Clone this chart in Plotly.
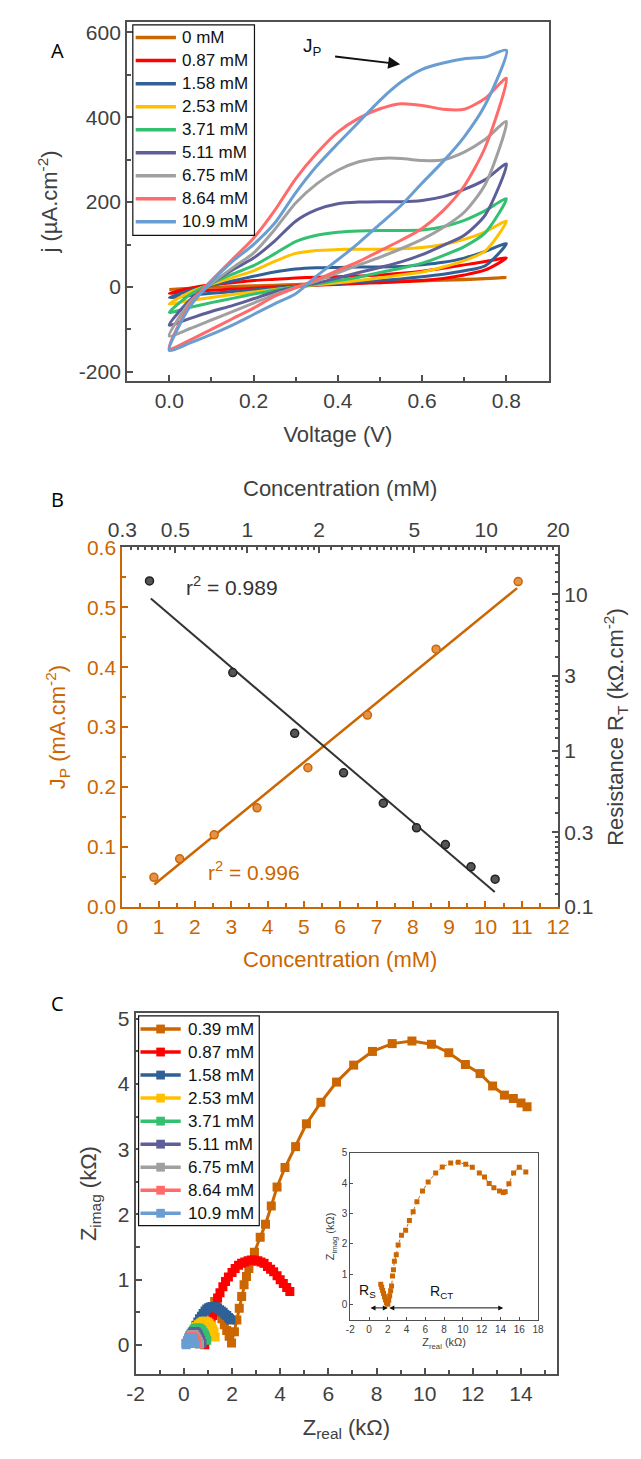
import plotly.graph_objects as go

FONT = "Liberation Sans, Arial, sans-serif"
ORANGE = "#CC6600"
DARK = "#404040"
AXC = "#505050"

# ---------------- Panel A data (CV) ----------------
voltage_fwd = [0, 0.05, 0.1, 0.15, 0.2, 0.25, 0.3, 0.35, 0.4, 0.45, 0.5, 0.55, 0.6, 0.65, 0.7, 0.75, 0.8]
voltage_rev = [0.8, 0.75, 0.7, 0.65, 0.6, 0.55, 0.5, 0.45, 0.4, 0.35, 0.3, 0.25, 0.2, 0.15, 0.1, 0.05, 0]
cv_labels = ["0 mM", "0.87 mM", "1.58 mM", "2.53 mM", "3.71 mM", "5.11 mM", "6.75 mM", "8.64 mM", "10.9 mM"]
cv_colors = ["#CC6600", "#FF0000", "#2F6196", "#FFC000", "#33C070", "#5E5E99", "#A0A0A0", "#FF6B6B", "#6A9ED2"]
cv_fwd = [
    [-6, -3, -1, 1, 3, 4, 6, 8, 9, 11, 12, 14, 15, 17, 18, 20, 22],
    [-15, -3, 5, 10, 15, 18, 21, 23, 24, 26, 28, 32, 37, 44, 52, 60, 68],
    [-25, -8, 4, 14, 25, 35, 42, 45, 46, 47, 47, 48, 52, 58, 68, 84, 102],
    [-40, -12, 6, 22, 38, 60, 79, 86, 88, 89, 89, 90, 93, 100, 112, 130, 155],
    [-60, -18, 8, 30, 50, 78, 107, 122, 129, 132, 133, 133, 134, 142, 157, 180, 208],
    [-90, -30, 8, 40, 68, 108, 155, 182, 196, 200, 201, 201, 204, 213, 230, 253, 290],
    [-116, -35, 8, 45, 80, 135, 198, 243, 275, 295, 303, 303, 298, 300, 318, 348, 390],
    [-146, -40, 15, 65, 115, 180, 255, 315, 365, 398, 420, 432, 428, 419, 419, 445, 492],
    [-150, -45, 12, 60, 100, 150, 222, 285, 338, 389, 440, 483, 513, 528, 538, 542, 558],
]
cv_rev = [
    [22, 19, 17, 16, 14, 13, 11, 10, 8, 7, 5, 4, 2, 1, -1, -3, -6],
    [68, 40, 28, 20, 15, 12, 10, 8, 6, 4, 2, 0, -3, -5, -8, -11, -15],
    [102, 50, 38, 30, 24, 19, 15, 12, 8, 5, 1, -3, -7, -11, -15, -20, -25],
    [155, 85, 62, 47, 35, 28, 21, 15, 10, 5, 0, -6, -12, -18, -25, -32, -40],
    [208, 128, 95, 74, 56, 44, 34, 23, 15, 7, 0, -8, -17, -27, -37, -48, -60],
    [290, 170, 122, 98, 76, 59, 46, 34, 21, 9, 0, -12, -28, -44, -58, -74, -90],
    [390, 242, 176, 140, 112, 90, 70, 52, 33, 14, -1, -18, -38, -58, -78, -98, -116],
    [492, 330, 238, 180, 138, 110, 85, 60, 39, 17, -2, -22, -50, -75, -100, -125, -146],
    [558, 430, 354, 296, 245, 192, 148, 104, 64, 26, -16, -40, -65, -90, -112, -132, -150],
]

# ---------------- Panel B data ----------------
conc_jp = [0.87, 1.58, 2.53, 3.71, 5.11, 6.75, 8.64, 10.9]
jp_values = [0.049, 0.080, 0.120, 0.165, 0.232, 0.320, 0.430, 0.543]
jp_fit_x = [0.88, 10.87]
jp_fit_y = [0.037, 0.532]
conc_rt = [0.39, 0.87, 1.58, 2.53, 3.71, 5.11, 6.75, 8.64, 10.9]
rt_values = [12.2, 3.16, 1.29, 0.72, 0.46, 0.32, 0.25, 0.18, 0.15]
rt_fit_x = [0.395, 10.86]
rt_fit_y = [9.4, 0.124]

# ---------------- Panel C data (Nyquist) ----------------
eis_labels = ["0.39 mM", "0.87 mM", "1.58 mM", "2.53 mM", "3.71 mM", "5.11 mM", "6.75 mM", "8.64 mM", "10.9 mM"]
eis_colors = ["#CC6600", "#FF0000", "#2F6196", "#FFC000", "#33C070", "#5E5E99", "#A0A0A0", "#FF6B6B", "#6A9ED2"]
eis_re = [
    [1.28, 1.38, 1.48, 1.58, 1.68, 1.78, 1.88, 1.98, 2.1, 2.2, 2.3, 2.4, 2.5, 2.6, 2.7, 2.8, 2.93, 3.17, 3.39, 3.63, 3.87, 4.2, 4.64, 5.09, 5.69, 6.34, 7.05, 7.83, 8.65, 9.47, 10.28, 11.0, 11.69, 12.3, 12.82, 13.31, 13.68, 14.0, 14.25],
    [0.87, 0.92, 0.98, 1.05, 1.13, 1.2, 1.3, 1.4, 1.5, 1.62, 1.73, 1.85, 2.0, 2.13, 2.27, 2.4, 2.53, 2.67, 2.8, 2.93, 3.07, 3.2, 3.33, 3.47, 3.6, 3.73, 3.87, 4.0, 4.13, 4.27, 4.4],
    [0.2, 0.28, 0.35, 0.43, 0.5, 0.58, 0.65, 0.73, 0.8, 0.88, 0.95, 1.03, 1.1, 1.18, 1.25, 1.33, 1.4, 1.48, 1.55, 1.63, 1.7, 1.78, 1.85, 1.9, 1.95],
    [0.15, 0.22, 0.3, 0.38, 0.45, 0.52, 0.6, 0.68, 0.75, 0.82, 0.9, 0.98, 1.05, 1.1, 1.15, 1.2, 1.25, 1.3],
    [0.1, 0.15, 0.2, 0.25, 0.3, 0.35, 0.4, 0.45, 0.5, 0.55, 0.6, 0.65, 0.7, 0.75, 0.8, 0.85, 0.9, 0.95],
    [0.1, 0.15, 0.2, 0.25, 0.3, 0.35, 0.4, 0.45, 0.5, 0.55, 0.6, 0.65, 0.7, 0.75],
    [0.1, 0.15, 0.2, 0.25, 0.3, 0.35, 0.4, 0.45, 0.5, 0.55, 0.6, 0.65],
    [0.1, 0.15, 0.2, 0.25, 0.3, 0.35, 0.4, 0.45, 0.5, 0.55],
    [0.1, 0.13, 0.15, 0.18, 0.2, 0.25, 0.3, 0.35, 0.4, 0.45],
]
eis_im = [
    [0.665, 0.58, 0.49, 0.4, 0.31, 0.22, 0.13, 0.03, 0.2, 0.38, 0.56, 0.74, 0.92, 1.05, 1.17, 1.28, 1.42, 1.65, 1.85, 2.13, 2.42, 2.72, 3.04, 3.39, 3.72, 4.03, 4.29, 4.5, 4.62, 4.66, 4.61, 4.48, 4.3, 4.16, 3.97, 3.83, 3.78, 3.71, 3.65],
    [0.0, 0.08, 0.16, 0.24, 0.32, 0.45, 0.58, 0.72, 0.8, 0.89, 0.97, 1.04, 1.11, 1.17, 1.22, 1.25, 1.27, 1.29, 1.30, 1.30, 1.29, 1.27, 1.25, 1.2, 1.16, 1.12, 1.06, 1.0, 0.94, 0.88, 0.82],
    [0.05, 0.12, 0.18, 0.24, 0.3, 0.35, 0.4, 0.44, 0.48, 0.52, 0.55, 0.57, 0.58, 0.59, 0.58, 0.58, 0.56, 0.54, 0.52, 0.5, 0.47, 0.45, 0.42, 0.4, 0.38],
    [0.03, 0.09, 0.14, 0.19, 0.24, 0.28, 0.31, 0.33, 0.35, 0.36, 0.36, 0.35, 0.33, 0.3, 0.28, 0.24, 0.2, 0.12],
    [0.02, 0.06, 0.1, 0.14, 0.17, 0.2, 0.22, 0.24, 0.25, 0.26, 0.26, 0.25, 0.24, 0.22, 0.19, 0.16, 0.12, 0.07],
    [0.02, 0.06, 0.1, 0.13, 0.16, 0.18, 0.2, 0.2, 0.2, 0.18, 0.15, 0.11, 0.07, 0.02],
    [0.02, 0.06, 0.1, 0.12, 0.15, 0.16, 0.16, 0.15, 0.12, 0.09, 0.05, 0.01],
    [0.02, 0.05, 0.08, 0.1, 0.12, 0.12, 0.12, 0.1, 0.07, 0.02],
    [0.0, 0.03, 0.05, 0.07, 0.09, 0.1, 0.11, 0.1, 0.08, 0.02],
]
inset_re = [1.25, 1.35, 1.45, 1.55, 1.65, 1.75, 1.85, 1.95, 2.0, 2.1, 2.2, 2.3, 2.4, 2.5, 2.6, 2.7, 2.9, 3.1, 3.46, 3.9, 4.3, 4.7, 5.1, 5.7, 6.3, 7.1, 7.8, 8.7, 9.5, 10.3, 11.0, 11.75, 12.3, 12.8, 13.3, 13.9, 14.3, 14.5, 14.9, 15.4, 16.0, 16.7]
inset_im = [0.68, 0.58, 0.47, 0.37, 0.27, 0.17, 0.08, 0.03, 0.03, 0.15, 0.3, 0.46, 0.62, 0.95, 1.15, 1.43, 1.65, 1.97, 2.29, 2.45, 2.77, 3.06, 3.39, 3.74, 4.04, 4.33, 4.53, 4.66, 4.69, 4.62, 4.52, 4.33, 4.2, 3.99, 3.85, 3.74, 3.69, 3.72, 3.98, 4.33, 4.52, 4.37]

W = 641.0
H = 1459.0
TICK = 21
TITLE = 22

fig = go.Figure()

# Panel A traces
for lab, col, f, r in zip(cv_labels, cv_colors, cv_fwd, cv_rev):
    fig.add_trace(go.Scatter(
        x=voltage_fwd + voltage_rev[1:], y=f + r[1:], mode="lines", name=lab,
        line=dict(color=col, width=3, shape="spline", smoothing=0.7),
        xaxis="x", yaxis="y", showlegend=False))

# Panel B traces
fig.add_trace(go.Scatter(x=jp_fit_x, y=jp_fit_y, mode="lines", line=dict(color=ORANGE, width=2.5),
                         xaxis="x2", yaxis="y2", showlegend=False))
fig.add_trace(go.Scatter(x=conc_jp, y=jp_values, mode="markers",
                         marker=dict(size=8, color="#E4914A", line=dict(color=ORANGE, width=1.5)),
                         xaxis="x2", yaxis="y2", showlegend=False))
fig.add_trace(go.Scatter(x=rt_fit_x, y=rt_fit_y, mode="lines", line=dict(color="#333333", width=2),
                         xaxis="x3", yaxis="y3", showlegend=False))
fig.add_trace(go.Scatter(x=conc_rt, y=rt_values, mode="markers",
                         marker=dict(size=8, color="#555555", line=dict(color="#222222", width=1.5)),
                         xaxis="x3", yaxis="y3", showlegend=False))

# Panel C traces
for lab, col, xr, yi in zip(eis_labels, eis_colors, eis_re, eis_im):
    fig.add_trace(go.Scatter(x=xr, y=yi, mode="lines+markers", name=lab,
                             line=dict(color=col, width=3),
                             marker=dict(symbol="square", size=9, color=col),
                             xaxis="x4", yaxis="y4", showlegend=False))
fig.add_trace(go.Scatter(x=inset_re, y=inset_im, mode="lines+markers",
                         line=dict(color=ORANGE, width=1, dash="dot"),
                         marker=dict(symbol="square", size=5, color=ORANGE),
                         xaxis="x5", yaxis="y5", showlegend=False))


def ax(**kw):
    base = dict(showline=True, linecolor=AXC, linewidth=2, ticks="inside", ticklen=6, tickwidth=1.5,
                tickcolor=AXC, showgrid=False, zeroline=False,
                tickfont=dict(family=FONT, size=TICK, color=DARK),
                title_font=dict(family=FONT, size=TITLE, color=DARK))
    base.update(kw)
    return base


top_minor = ([0.3 + 0.025 * k for k in range(1, 8)] + [0.5 + 0.05 * k for k in range(1, 10)]
             + [1 + 0.1 * k for k in range(1, 10)] + [2 + 0.25 * k for k in range(1, 12)]
             + [5 + 0.5 * k for k in range(1, 10)] + [10 + 1 * k for k in range(1, 10)])
right_minor = ([0.1 + 0.02 * k for k in range(1, 10)] + [0.3 + 0.1 * k for k in range(1, 7)]
               + [1 + 0.2 * k for k in range(1, 10)] + [3 + 1 * k for k in range(1, 7)] + [12, 14, 16, 18])

fig.update_layout(
    width=641, height=1459, margin=dict(l=0, r=0, t=0, b=0),
    paper_bgcolor="white", plot_bgcolor="white",
    font=dict(family=FONT, color=DARK),
    # Panel A
    xaxis=ax(domain=[117 / W, 557 / W], anchor="y", range=[-0.1, 0.9], mirror=True,
             tickvals=[0, 0.2, 0.4, 0.6, 0.8], ticktext=["0.0", "0.2", "0.4", "0.6", "0.8"],
             minor=dict(tickvals=[0.1, 0.3, 0.5, 0.7], ticks="inside", ticklen=4, tickcolor=AXC),
             title=dict(text="Voltage (V)")),
    yaxis=ax(domain=[1 - 375 / H, 1 - 10 / H], anchor="x", range=[-222, 625], mirror=True,
             tickvals=[-200, 0, 200, 400, 600], ticktext=["-200", "0", "200", "400", "600"],
             minor=dict(tickvals=[-100, 100, 300, 500], ticks="inside", ticklen=4, tickcolor=AXC),
             title=dict(text="j (µA.cm<sup>-2</sup>)")),
    # Panel B bottom / left
    xaxis2=ax(domain=[112 / W, 567 / W], anchor="y2", range=[0, 12], dtick=1, linecolor=ORANGE,
              tickcolor=ORANGE, tickfont=dict(family=FONT, size=TICK, color=ORANGE),
              title=dict(text="Concentration (mM)", font=dict(family=FONT, size=TITLE, color=ORANGE)),
              minor=dict(dtick=0.5, ticks="inside", ticklen=4, tickcolor=ORANGE)),
    yaxis2=ax(domain=[1 - 909 / H, 1 - 544 / H], anchor="x2", range=[0, 0.6], dtick=0.1, tickformat=".1f",
              linecolor=ORANGE, tickcolor=ORANGE, tickfont=dict(family=FONT, size=TICK, color=ORANGE),
              title=dict(text="J<sub>P</sub> (mA.cm<sup>-2</sup>)", font=dict(family=FONT, size=TITLE, color=ORANGE)),
              minor=dict(dtick=0.05, ticks="inside", ticklen=4, tickcolor=ORANGE)),
    # Panel B top / right (log)
    xaxis3=ax(overlaying="x2", anchor="y3", side="top", type="log", range=[-0.5229, 1.30103],
              tickvals=[0.3, 0.5, 1, 2, 5, 10, 20], ticktext=["0.3", "0.5", "1", "2", "5", "10", "20"],
              minor=dict(tickvals=top_minor, ticks="inside", ticklen=3, tickcolor=AXC),
              title=dict(text="Concentration (mM)")),
    yaxis3=ax(overlaying="y2", anchor="x3", side="right", type="log", range=[-1, 1.30103],
              tickvals=[0.1, 0.3, 1, 3, 10], ticktext=["0.1", "0.3", "1", "3", "10"],
              minor=dict(tickvals=right_minor, ticks="inside", ticklen=3, tickcolor=AXC),
              title=dict(text="Resistance R<sub>T</sub> (kΩ.cm<sup>-2</sup>)")),
    # Panel C
    xaxis4=ax(domain=[126 / W, 566 / W], anchor="y4", range=[-2, 15.5], mirror=True,
              tickvals=[-2, 0, 2, 4, 6, 8, 10, 12, 14],
              ticktext=["-2", "0", "2", "4", "6", "8", "10", "12", "14"],
              minor=dict(dtick=1, ticks="inside", ticklen=4, tickcolor=AXC),
              title=dict(text="Z<sub>real</sub> (kΩ)")),
    yaxis4=ax(domain=[1 - 1384 / H, 1 - 1017 / H], anchor="x4", range=[-0.45, 5.09], mirror=True, dtick=1,
              minor=dict(dtick=0.5, ticks="inside", ticklen=4, tickcolor=AXC),
              title=dict(text="Z<sub>imag</sub> (kΩ)")),
    # Inset
    xaxis5=ax(domain=[350 / W, 546 / W], anchor="y5", range=[-2, 18], mirror=True,
              tickvals=[-2, 0, 2, 4, 6, 8, 10, 12, 14, 16, 18],
              ticktext=["-2", "0", "2", "4", "6", "8", "10", "12", "14", "16", "18"],
              linewidth=1, ticklen=3, tickwidth=1, tickfont=dict(family=FONT, size=10, color=DARK),
              title=dict(text="Z<sub>real</sub> (kΩ)", font=dict(family=FONT, size=11, color=DARK), standoff=4)),
    yaxis5=ax(domain=[1 - 1329 / H, 1 - 1159 / H], anchor="x5", range=[-0.5, 5], mirror=True, dtick=1,
              linewidth=1, ticklen=3, tickwidth=1, tickfont=dict(family=FONT, size=10, color=DARK),
              title=dict(text="Z<sub>imag</sub> (kΩ)", font=dict(family=FONT, size=11, color=DARK), standoff=4)),
)

shapes = []
annos = []


def legend_box(labels, colors, box, y_first, spacing, lx0, lx1, tx, with_marker):
    bx0, bx1, by0, by1 = box
    shapes.append(dict(type="rect", xref="paper", yref="paper", x0=bx0 / W, x1=bx1 / W,
                       y0=1 - by1 / H, y1=1 - by0 / H, line=dict(color="#111", width=1.2),
                       fillcolor="white", layer="above"))
    for i, (lab, col) in enumerate(zip(labels, colors)):
        yy = y_first + i * spacing
        shapes.append(dict(type="line", xref="paper", yref="paper", x0=lx0 / W, x1=lx1 / W,
                           y0=1 - yy / H, y1=1 - yy / H, line=dict(color=col, width=3.5), layer="above"))
        if with_marker:
            mx = (lx0 + lx1) / 2
            shapes.append(dict(type="rect", xref="paper", yref="paper", x0=(mx - 4.5) / W, x1=(mx + 4.5) / W,
                               y0=1 - (yy + 4.5) / H, y1=1 - (yy - 4.5) / H, line=dict(width=0),
                               fillcolor=col, layer="above"))
        annos.append(dict(text=lab, x=tx / W, y=1 - yy / H, xref="paper", yref="paper", xanchor="left",
                          yanchor="middle", showarrow=False, font=dict(family=FONT, size=17, color="#111")))


legend_box(cv_labels, cv_colors, (123, 250, 13, 227), 26, 23.4, 126, 168, 172, False)
legend_box(eis_labels, eis_colors, (129, 255, 1020, 1233), 1033.3, 23.4, 131, 173, 178, True)

PL = "Open Sans, Liberation Sans, sans-serif"
annos += [
    dict(text="A", x=35 / W, y=1 - 23 / H, xref="paper", yref="paper", showarrow=False,
         font=dict(family=PL, size=20, color="#000")),
    dict(text="B", x=35 / W, y=1 - 495 / H, xref="paper", yref="paper", showarrow=False,
         font=dict(family=PL, size=20, color="#000")),
    dict(text="C", x=35 / W, y=1 - 1023 / H, xref="paper", yref="paper", showarrow=False,
         font=dict(family=PL, size=20, color="#000")),
    dict(text="J<sub>P</sub>", x=0.34, y=565, xref="x", yref="y", showarrow=False,
         font=dict(family=FONT, size=19, color="#111")),
    dict(text="", x=0.548, y=525, ax=0.39, ay=544, xref="x", yref="y", axref="x", ayref="y",
         showarrow=True, arrowhead=2, arrowsize=1.2, arrowwidth=2, arrowcolor="#111"),
    dict(text="r<sup>2</sup> = 0.989", x=3.03, y=0.536, xref="x2", yref="y2", showarrow=False,
         font=dict(family=FONT, size=21, color="#333")),
    dict(text="r<sup>2</sup> = 0.996", x=3.64, y=0.059, xref="x2", yref="y2", showarrow=False,
         font=dict(family=FONT, size=21, color=ORANGE)),
    dict(text="R<sub>S</sub>", x=-0.2, y=0.46, xref="x5", yref="y5", showarrow=False,
         font=dict(family=FONT, size=14, color="#111")),
    dict(text="R<sub>CT</sub>", x=7.7, y=0.41, xref="x5", yref="y5", showarrow=False,
         font=dict(family=FONT, size=14, color="#111")),
]
for (x0, x1) in [(0, 2), (2, 14.3)]:
    annos.append(dict(text="", x=x1, y=-0.1, ax=x0, ay=-0.1, xref="x5", yref="y5", axref="x5", ayref="y5",
                      showarrow=True, arrowhead=2, startarrowhead=2, arrowside="end+start",
                      arrowsize=1, arrowwidth=1, arrowcolor="#111"))
fig.update_layout(annotations=annos, shapes=shapes)

fig.write_html("out.html", config={"displayModeBar": False},
               post_script="document.body.style.margin='0';document.body.style.overflow='hidden';")
